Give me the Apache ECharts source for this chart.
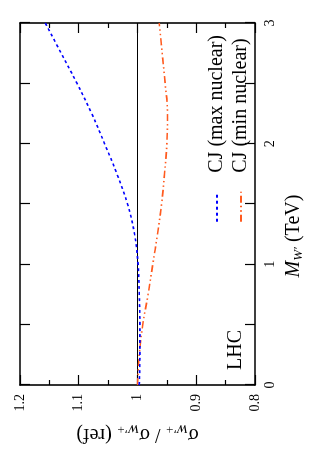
<!DOCTYPE html>
<html>
<head>
<meta charset="utf-8">
<script src="https://cdn.jsdelivr.net/npm/echarts@6/dist/echarts.min.js"></script>
<style>
html,body{margin:0;padding:0;background:#fff;overflow:hidden;width:322px;height:458px;}
#chart{position:absolute;left:0;top:0;width:458px;height:322px;transform-origin:0 0;transform:translate(0,458px) rotate(-90deg);}
</style>
</head>
<body>
<div id="chart"></div>
<script>
// W' mass (TeV)
const massTeV = [0, 0.25, 0.5, 0.75, 1.0, 1.25, 1.5, 1.75, 2.0, 2.25, 2.5, 2.75, 3.0];
// sigma ratio, CJ (max nuclear)
const maxNuclear = [0.997, 0.996, 0.996, 0.997, 0.999, 1.005, 1.017, 1.035, 1.056, 1.078, 1.103, 1.130, 1.157];
// sigma ratio, CJ (min nuclear)
const minNuclear = [1.000, 0.997, 0.991, 0.982, 0.974, 0.966, 0.959, 0.954, 0.950, 0.949, 0.953, 0.958, 0.963];
// reference line
const refMass = [0, 3];
const refRatio = [1, 1];
const seriesNames = ['CJ (max nuclear)', 'CJ (min nuclear)'];
const annotation = 'LHC';

const zip = (xs, ys) => xs.map((x, i) => [x, ys[i]]);
const FONT = '"Liberation Serif", "DejaVu Serif", serif';

const chart = echarts.init(document.getElementById('chart'), null, {renderer: 'canvas'});
const axisLineStyle = {color: '#000', width: 1.6};
chart.setOption({
  animation: false,
  backgroundColor: '#fff',
  grid: {left: 73, right: 23, top: 20, bottom: 67},
  xAxis: [{
    type: 'value', min: 0, max: 3, interval: 1, position: 'bottom',
    axisLine: {onZero: false, lineStyle: axisLineStyle},
    axisTick: {inside: true, length: 10, lineStyle: {color: '#000', width: 1.2}},
    minorTick: {show: true, splitNumber: 2, length: 10, lineStyle: {color: '#000', width: 1.2}},
    splitLine: {show: false},
    axisLabel: {color: '#000', fontFamily: FONT, fontSize: 14, margin: 8},
    name: '{i|M}{sub|W′} (TeV)',
    nameLocation: 'middle', nameGap: 27,
    nameTextStyle: {
      color: '#000', fontFamily: FONT, fontSize: 20, padding: [0, 64, 0, 0],
      rich: {
        i: {fontFamily: FONT, fontSize: 20, fontStyle: 'italic', color: '#000'},
        sub: {fontFamily: FONT, fontSize: 13, fontStyle: 'italic', color: '#000', verticalAlign: 'bottom', padding: [10, 0, 0, 0]}
      }
    }
  }, {
    type: 'value', min: 0, max: 3, interval: 1, position: 'top',
    axisLine: {onZero: false, lineStyle: axisLineStyle},
    axisTick: {inside: true, length: 10, lineStyle: {color: '#000', width: 1.2}},
    minorTick: {show: true, splitNumber: 2, length: 10, lineStyle: {color: '#000', width: 1.2}},
    splitLine: {show: false}, axisLabel: {show: false}
  }],
  yAxis: [{
    type: 'value', min: 0.8, max: 1.2, interval: 0.1, position: 'left',
    axisLine: {onZero: false, lineStyle: axisLineStyle},
    axisTick: {inside: true, length: 10, lineStyle: {color: '#000', width: 1.2}},
    minorTick: {show: true, splitNumber: 2, length: 5, lineStyle: {color: '#000', width: 1.2}},
    splitLine: {show: false},
    axisLabel: {color: '#000', fontFamily: FONT, fontSize: 14, margin: 9,
      formatter: v => String(parseFloat(v.toFixed(2)))},
    name: '{s|σ}{sub|W′+} / {s|σ}{sub|W′+} (ref)',
    nameLocation: 'middle', nameGap: 37,
    nameTextStyle: {
      color: '#000', fontFamily: FONT, fontSize: 20,
      rich: {
        s: {fontFamily: FONT, fontSize: 20, color: '#000'},
        sub: {fontFamily: FONT, fontSize: 13, fontStyle: 'italic', color: '#000', verticalAlign: 'bottom', padding: [10, 0, 0, 0]}
      }
    }
  }, {
    type: 'value', min: 0.8, max: 1.2, interval: 0.1, position: 'right',
    axisLine: {onZero: false, lineStyle: axisLineStyle},
    axisTick: {inside: true, length: 10, lineStyle: {color: '#000', width: 1.2}},
    minorTick: {show: true, splitNumber: 2, length: 5, lineStyle: {color: '#000', width: 1.2}},
    splitLine: {show: false}, axisLabel: {show: false}
  }],
  legend: {
    orient: 'vertical', right: 30, top: 202, align: 'left',
    itemWidth: 30, itemHeight: 14, itemGap: 4,
    data: seriesNames,
    itemStyle: {opacity: 0, color: 'rgba(0,0,0,0)', borderWidth: 0},
    textStyle: {color: '#000', fontFamily: FONT, fontSize: 20, lineHeight: 20, padding: [0, 0, 0, 14]}
  },
  graphic: [{
    type: 'text', left: 88, top: 226,
    style: {text: annotation, fill: '#000', font: '20px ' + FONT}
  }],
  series: [{
    name: 'ref', type: 'line', data: zip(refMass, refRatio), showSymbol: false, symbol: 'none',
    lineStyle: {color: '#000', width: 1.2}, silent: true, z: 1
  }, {
    name: seriesNames[0], type: 'line', data: zip(massTeV, maxNuclear), smooth: 0.4,
    symbol: 'none', color: '#0000ff',
    lineStyle: {color: '#0000ff', width: 1.6, type: [3, 3]}, z: 3
  }, {
    name: seriesNames[1], type: 'line', data: zip(massTeV, minNuclear), smooth: 0.4,
    symbol: 'none', color: '#ff5a1e',
    lineStyle: {color: '#ff5a1e', width: 1.6, type: [7, 3, 1.5, 3, 1.5, 3]}, z: 2
  }]
});
</script>
</body>
</html>
